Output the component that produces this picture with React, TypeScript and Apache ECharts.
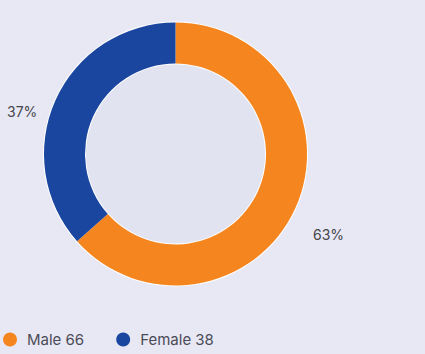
import React, { useEffect, useRef } from "react";
import * as echarts from "echarts";

const categories = ["Male", "Female"];
const values = [66, 38];
const colors = ["#f5861f", "#1a46a0"];

export default function App() {
  const ref = useRef<HTMLDivElement>(null);
  useEffect(() => {
    if (!ref.current) return;
    const chart = echarts.init(ref.current, null, { renderer: "svg" });
    const total = values.reduce((a, b) => a + b, 0);
    const data = categories.map((c, i) => ({
      name: c,
      value: values[i],
      itemStyle: { color: colors[i] },
    }));
    const labelPos = [
      { x: 313, y: 234 },
      { x: 7, y: 111 },
    ];
    chart.setOption({
      animation: false,
      backgroundColor: "#e8e8f4",
      legend: {
        left: 3,
        top: 332,
        padding: 0,
        icon: "circle",
        itemWidth: 14,
        itemHeight: 14,
        itemGap: 32,
        data: categories,
        formatter: (name: string) => `${name} ${values[categories.indexOf(name)]}`,
        textStyle: {
          fontFamily: "Inter",
          fontSize: 15,
          color: "#4b4b57",
          padding: [0, 0, 0, 5],
        },
      },
      series: [
        {
          type: "pie",
          silent: true,
          center: [175.5, 154],
          radius: [0, 132.5],
          label: { show: false },
          labelLine: { show: false },
          itemStyle: { color: "#ffffff" },
          data: [{ name: "_bg", value: 1 }],
          z: 1,
        },
        {
          type: "pie",
          center: [175.5, 154],
          radius: [90.5, 131.5],
          startAngle: 90,
          clockwise: true,
          avoidLabelOverlap: false,
          data,
          label: {
            show: true,
            position: "outside",
            overflow: "none",
            formatter: (p: any) => `${Math.round((p.value / total) * 100)}%`,
            fontFamily: "Inter",
            fontSize: 14,
            color: "#45454b",
          },
          labelLine: { show: false, length: 0, length2: 0 },
          labelLayout: (p: any) => ({
            x: labelPos[p.dataIndex].x,
            y: labelPos[p.dataIndex].y,
            align: "left",
            verticalAlign: "middle",
          }),
          z: 2,
        },
        {
          type: "pie",
          silent: true,
          center: [175.5, 154],
          radius: [0, 89.5],
          label: { show: false },
          labelLine: { show: false },
          itemStyle: { color: "#e1e3f1" },
          data: [{ name: "_inner", value: 1 }],
          z: 3,
        },
      ],
    });
    return () => chart.dispose();
  }, []);
  return (
    <div
      ref={ref}
      style={{ position: "fixed", left: 0, top: 0, width: 425, height: 354 }}
    />
  );
}
